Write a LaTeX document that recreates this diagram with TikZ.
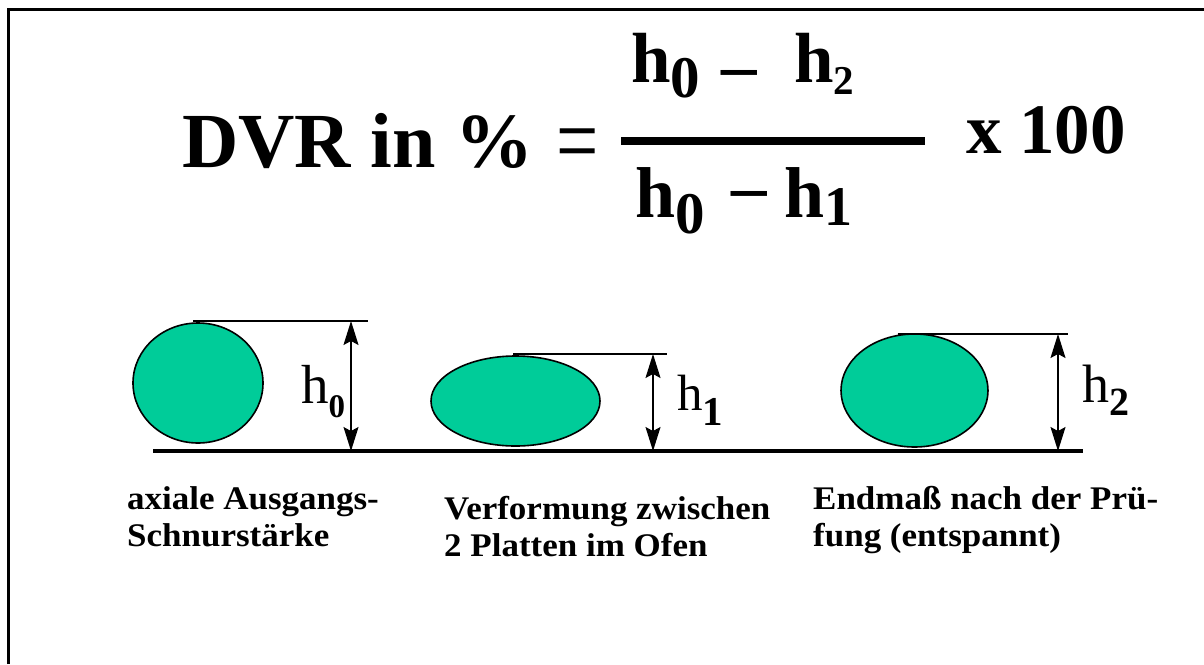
\documentclass[tikz,border=0pt]{standalone}
\usepackage{fontspec}
\setmainfont{Liberation Serif}
\newfontfamily\capfont[FakeStretch=1.06]{Liberation Serif}
\usetikzlibrary{shapes.geometric, arrows.meta}
\definecolor{sealgreen}{RGB}{0,204,153}

\begin{document}
\begin{tikzpicture}[x=1pt, y=-1pt, >={Stealth[length=24pt, width=15pt, inset=4pt]},
    seal/.style={ellipse, draw, line width=1.6pt, fill=sealgreen, inner sep=0pt},
    guide/.style={line width=1.3pt},
    dimline/.style={<->, line width=1.3pt},
    txt/.style={inner sep=0pt, anchor=base west},
    caption/.style={inner sep=0pt, anchor=base west, align=left,
      font=\capfont\fontsize{33}{37}\selectfont\bfseries}]
  \useasboundingbox (0,0) rectangle (1204,664);

  % frame
  \draw[line width=3pt] (8.5,664) -- (8.5,9.5) -- (1204,9.5);

  % formula
  \node[txt, font=\fontsize{78}{80}\selectfont\bfseries] (dvr) at (182,167) {DVR in \%};
  \node[txt] (eq) at (556,174) {\scalebox{0.75}[1]{\fontsize{100}{100}\selectfont =}};
  \draw[line width=8pt] (621,141) -- (925,141);
  \node[txt, font=\fontsize{71}{71}\selectfont\bfseries] (num0) at (631,82)
    {h\raisebox{-15pt}{\fontsize{59}{59}\selectfont 0}};
  \node[txt, font=\fontsize{71}{71}\selectfont\bfseries] (numdash) at (721,89) {–};
  \node[txt, font=\fontsize{71}{71}\selectfont\bfseries] (num2) at (794,82)
    {h\raisebox{-12pt}{\fontsize{41}{41}\selectfont 2}};
  \node[txt, font=\fontsize{72}{72}\selectfont\bfseries] (den0) at (635,217)
    {h\raisebox{-16pt}{\fontsize{59}{59}\selectfont 0}};
  \node[txt, font=\fontsize{71}{71}\selectfont\bfseries] (dendash) at (731,210) {–};
  \node[txt, font=\fontsize{72}{72}\selectfont\bfseries] (den1) at (784,217)
    {h\raisebox{-8pt}{\fontsize{56}{56}\selectfont 1}};
  \node[txt, font=\fontsize{71}{71}\selectfont\bfseries] (times) at (966,153) {x 100};

  % seals
  \node[seal, minimum width=130pt, minimum height=120pt] (s0) at (198,383) {};
  \node[seal, minimum width=169pt, minimum height=90pt] (s1) at (515.5,401) {};
  \node[seal, minimum width=147pt, minimum height=113pt] (s2) at (914.5,390.5) {};

  \coordinate (g0) at (153,451);
  \coordinate (g1) at (1083,451);
  \draw[line width=3.5pt] (g0) -- (g1);

  \coordinate (top0) at (368,321);
  \coordinate (top1) at (667,354);
  \coordinate (top2) at (1068,334);
  \draw[guide] ([xshift=-5pt]s0.north |- top0) -- (top0);
  \draw[guide] ([xshift=-2.5pt]s1.north |- top1) -- (top1);
  \draw[guide] ([xshift=-17pt]s2.north |- top2) -- (top2);

  \coordinate (a0) at (351,321);
  \coordinate (a1) at (653,354);
  \coordinate (a2) at (1058,334);
  \draw[dimline] (a0) -- (a0 |- g0);
  \draw[dimline] (a1) -- (a1 |- g0);
  \draw[dimline] (a2) -- (a2 |- g0);

  \node[txt, font=\fontsize{55}{55}\selectfont] (h0) at (301,403)
    {h\raisebox{-14pt}{\fontsize{33}{33}\selectfont\bfseries 0}};
  \node[txt, font=\fontsize{51}{51}\selectfont] (h1) at (677,410)
    {h\raisebox{-15pt}{\fontsize{41}{41}\selectfont\bfseries 1}};
  \node[txt, font=\fontsize{54}{54}\selectfont] (h2) at (1082,402)
    {h\raisebox{-13pt}{\fontsize{40}{40}\selectfont\bfseries 2}};

  % captions (base = last line)
  \node[caption] (c0) at (127,546) {axiale Ausgangs-\\Schnurstärke};
  \node[caption] (c1) at (444,556) {Verformung zwischen\\2 Platten im Ofen};
  \node[caption] (c2) at (813,546) {Endmaß nach der Prü-\\fung (entspannt)};
\end{tikzpicture}
\end{document}
